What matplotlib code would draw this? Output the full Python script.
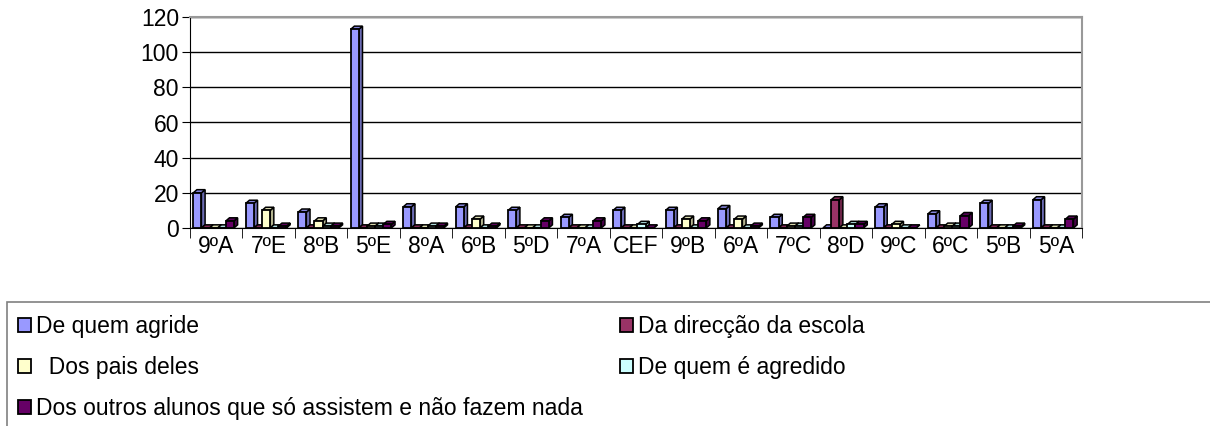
import numpy as np
import matplotlib
matplotlib.use('Agg')
import matplotlib.pyplot as plt
from matplotlib.patches import Polygon, Rectangle
from matplotlib.colors import to_rgb

plt.rcParams['font.family'] = ['Liberation Sans', 'DejaVu Sans']

turmas = ["9ºA", "7ºE", "8ºB", "5ºE", "8ºA", "6ºB", "5ºD", "7ºA", "CEF",
          "9ºB", "6ºA", "7ºC", "8ºD", "9ºC", "6ºC", "5ºB", "5ºA"]

de_quem_agride   = [20, 14, 9, 113, 12, 12, 10, 6, 10, 10, 11, 6, 0, 12, 8, 14, 16]
da_direccao      = [0, 0, 0, 0, 0, 0, 0, 0, 0, 0, 0, 0, 16, 0, 0, 0, 0]
dos_pais         = [0, 10, 4, 1, 0, 5, 0, 0, 0, 5, 5, 1, 0, 2, 1, 0, 0]
de_quem_agredido = [0, 0, 1, 1, 1, 0, 0, 0, 2, 0, 0, 1, 2, 0, 1, 0, 0]
dos_outros       = [4, 1, 1, 2, 1, 1, 4, 4, 0, 4, 1, 6, 2, 0, 7, 1, 5]

series = [
    ("De quem agride", de_quem_agride, "#9999FF"),
    ("Da direcção da escola", da_direccao, "#993366"),
    ("  Dos pais deles", dos_pais, "#FFFFCC"),
    ("De quem é agredido", de_quem_agredido, "#CCFFFF"),
    ("Dos outros alunos que só assistem e não fazem nada", dos_outros, "#660066"),
]

FS = 16.5

fig = plt.figure(figsize=(12.1, 4.26), dpi=100)
ax = fig.add_axes([190 / 1210, 1 - 228 / 426, (1082 - 190) / 1210, (228 - 17) / 426])

x = np.arange(len(turmas))
w = 0.155
dx, dy = 0.07, 1.8

def shade(c, f):
    r, g, b = to_rgb(c)
    return (r * f, g * f, b * f)

handles = []
for k, (name, vals, col) in enumerate(series):
    centers = x - 0.05 + (k - 2) * w
    bars = ax.bar(centers, vals, width=w, color=col, edgecolor="black",
                  linewidth=1.3, zorder=3 + k * 0.01, label=name)
    handles.append(bars)
    for c, h in zip(centers, vals):
        x0, x1 = c - w / 2, c + w / 2
        side = Polygon([(x1, 0), (x1 + dx, dy), (x1 + dx, h + dy), (x1, h)],
                       closed=True, facecolor=shade(col, 0.7), edgecolor="black",
                       linewidth=1.1, zorder=2.9 + k * 0.01)
        top = Polygon([(x0, h), (x0 + dx, h + dy), (x1 + dx, h + dy), (x1, h)],
                      closed=True, facecolor=shade(col, 0.85), edgecolor="black",
                      linewidth=1.1, zorder=2.9 + k * 0.01)
        ax.add_patch(side)
        ax.add_patch(top)

ax.set_xlim(-0.5, len(turmas) - 0.5)
ax.set_ylim(0, 120)
ax.set_yticks(range(0, 121, 20))
ax.yaxis.grid(True, color="black", linewidth=1.0, zorder=0)
ax.set_axisbelow(True)

ax.set_xticks(x)
ax.set_xticklabels(turmas, fontsize=FS)
ax.set_xticks(np.arange(-0.5, len(turmas), 1), minor=True)
ax.tick_params(axis="x", which="major", length=0, pad=5)
ax.tick_params(axis="x", which="minor", length=7, color="black")
ax.tick_params(axis="y", labelsize=FS, length=6, pad=2)

for s in ["top", "right"]:
    ax.spines[s].set_color("#999999")
    ax.spines[s].set_linewidth(1.5)
ax.spines["left"].set_color("black")
ax.spines["bottom"].set_color("black")

# legend box running off the page
fig.patches.append(Rectangle((7 / 1210, -0.1), 1.2, (426 - 302) / 426 + 0.1,
                             transform=fig.transFigure, facecolor="white",
                             edgecolor="#808080", linewidth=1.2))

order = [0, 2, 4, 1, 3]
leg = fig.legend([handles[i] for i in order], [series[i][0] for i in order],
                 loc="upper left", bbox_to_anchor=(9 / 1210, 1 - 306 / 426),
                 ncol=2, frameon=False, fontsize=FS, handlelength=0.55,
                 handleheight=0.55, handletextpad=0.25, labelspacing=0.78,
                 columnspacing=1.6, borderaxespad=0)

fig.savefig("out.png", dpi=100, facecolor="white")
